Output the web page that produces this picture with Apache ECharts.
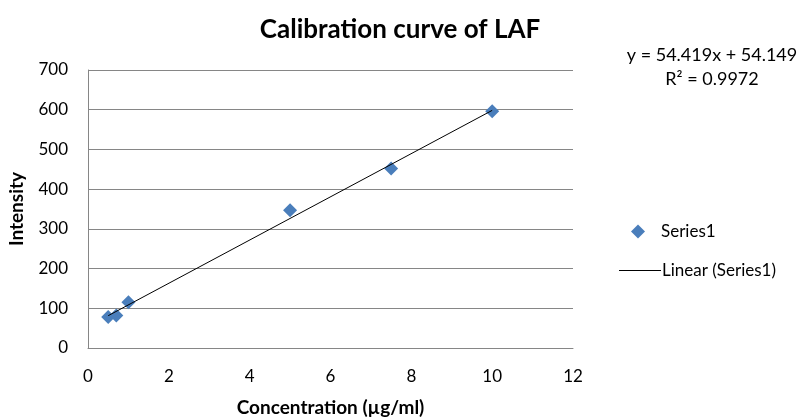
<!DOCTYPE html>
<html>
<head>
<meta charset="utf-8">
<script src="https://cdn.jsdelivr.net/npm/echarts@6/dist/echarts.min.js"></script>
<style>
  html, body { margin: 0; padding: 0; background: #fff; }
  #chart { width: 797px; height: 417px; }
</style>
</head>
<body>
<div id="chart"></div>
<script>
// measured points
var concentration = [0.5, 0.7, 1, 5, 7.5, 10]
var intensity = [78, 82, 115, 347, 452, 596]
// trendline ends
var trendX = [0.5, 10]
var trendY = [81.4, 598.3]
var equationText = 'y = 54.419x + 54.149'
var r2Text = 'R² = 0.9972'

var font = 'Lato, "Open Sans", sans-serif'
var chart = echarts.init(document.getElementById('chart'))

chart.setOption({
  animation: false,
  backgroundColor: '#fff',
  textStyle: { fontFamily: font },
  title: {
    text: 'Calibration curve of LAF',
    left: 395,
    textAlign: 'center',
    top: 12,
    textStyle: { fontSize: 26, fontWeight: 'bold', color: '#000', fontFamily: font }
  },
  // keep the plot box fixed, names may sit near the edge
  grid: { left: 88, right: 224, top: 70, bottom: 69, outerBoundsMode: 'none' },
  // two legends so the diamond keeps its shape and the line stays long
  legend: [
    {
      left: 626,
      top: 218,
      itemWidth: 14,
      itemHeight: 14,
      itemGap: 0,
      textStyle: { fontSize: 17, color: '#000', fontFamily: font, padding: [0, 0, 0, 11] },
      data: [{ name: 'Series1', icon: 'diamond' }]
    },
    {
      left: 614,
      top: 257,
      itemWidth: 42,
      itemHeight: 14,
      textStyle: { fontSize: 17, color: '#000', fontFamily: font, padding: [0, 0, 0, -4] },
      data: [{ name: 'Linear (Series1)', icon: 'path://M0,6 L42,6 L42,7 L0,7 Z' }]
    }
  ],
  xAxis: {
    type: 'value',
    min: 0, max: 12, interval: 2,
    name: 'Concentration (µg/ml)',
    nameLocation: 'middle',
    nameGap: 50,
    nameTextStyle: { fontSize: 19, fontWeight: 'bold', color: '#000', fontFamily: font },
    axisLine: { show: true, lineStyle: { color: '#868686' } },
    axisTick: { show: false },
    axisLabel: { fontSize: 17, color: '#000', margin: 20 },
    splitLine: { show: false }
  },
  yAxis: {
    type: 'value',
    min: 0, max: 700, interval: 100,
    name: 'Intensity',
    nameLocation: 'middle',
    nameGap: 62,
    nameTextStyle: { fontSize: 19, fontWeight: 'bold', color: '#000', fontFamily: font },
    axisLine: { show: true, lineStyle: { color: '#868686' } },
    axisTick: { show: false },
    axisLabel: { fontSize: 17, color: '#000', margin: 20 },
    splitLine: { show: true, lineStyle: { color: '#868686', width: 1 } }
  },
  graphic: [
    { type: 'text', x: 712, y: 55, style: { text: equationText, fontSize: 18, fill: '#000', fontFamily: font, align: 'center', verticalAlign: 'middle' } },
    { type: 'text', x: 712, y: 79, style: { text: r2Text, fontSize: 18, fill: '#000', fontFamily: font, align: 'center', verticalAlign: 'middle' } }
  ],
  series: [
    {
      name: 'Series1',
      type: 'scatter',
      symbol: 'diamond',
      symbolSize: 14,
      itemStyle: { color: '#4a7ebb', opacity: 1 },
      data: concentration.map(function (x, i) { return [x, intensity[i]] }),
      z: 3
    },
    {
      name: 'Linear (Series1)',
      type: 'line',
      symbol: 'none',
      lineStyle: { color: '#000', width: 1 },
      itemStyle: { color: '#000' },
      data: trendX.map(function (x, i) { return [x, trendY[i]] }),
      z: 4
    }
  ]
})
</script>
</body>
</html>
